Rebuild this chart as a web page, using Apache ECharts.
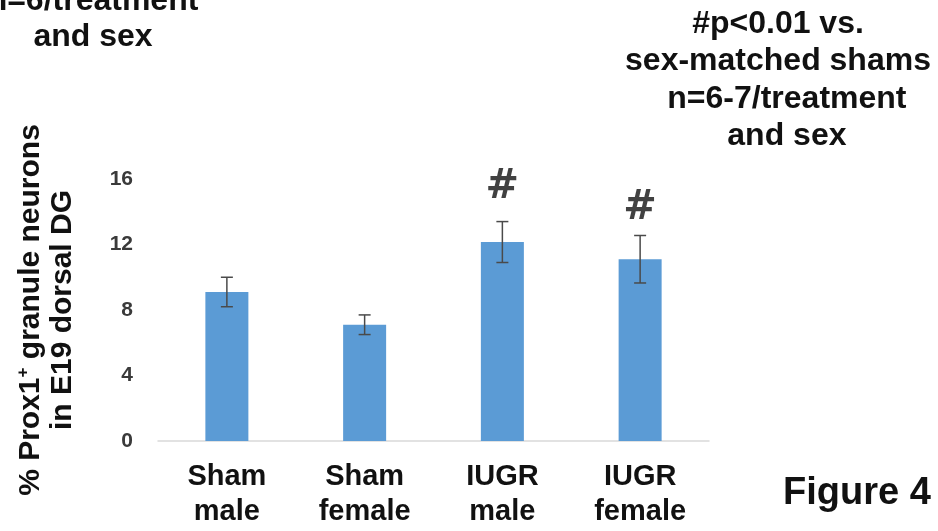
<!DOCTYPE html>
<html>
<head>
<meta charset="utf-8">
<script src="https://cdn.jsdelivr.net/npm/echarts@6/dist/echarts.min.js"></script>
<style>
  html, body { margin: 0; padding: 0; background: #fff; }
  #chart { width: 938px; height: 531px; }
</style>
</head>
<body>
<div id="chart"></div>
<script>
// ---- data ----
const categories = ['Sham\nmale', 'Sham\nfemale', 'IUGR\nmale', 'IUGR\nfemale'];
const means = [9.1, 7.1, 12.15, 11.1];
const sem = [0.9, 0.6, 1.25, 1.45];
const sigMarks = ['', '', '#', '#'];
const sigMarkY = [null, null, 15.5, 14.2];
const yTicks = [0, 4, 8, 12, 16];

const chart = echarts.init(document.getElementById('chart'), null, { renderer: 'canvas' });

const errData = means.map((m, i) => [i, m - sem[i], m + sem[i]]);
const sigData = sigMarkY.map((y, i) => [i, y]);

const boldSans = "'Liberation Sans', Arial, sans-serif";

const option = {
  backgroundColor: '#ffffff',
  animation: false,
  title: [
    {
      text: 'n=6/treatment\nand sex',
      left: 93, top: -17, textAlign: 'center', padding: 0,
      textStyle: { fontFamily: boldSans, fontSize: 32, fontWeight: 'bold', color: '#111', lineHeight: 36 }
    },
    {
      text: '#p<0.01 vs.\nsex-matched shams\n  n=6-7/treatment\n  and sex',
      left: 778, top: 5, textAlign: 'center', padding: 0,
      textStyle: { fontFamily: boldSans, fontSize: 32, fontWeight: 'bold', color: '#111', lineHeight: 37.5 }
    },
    {
      text: 'Figure 4',
      left: 783, top: 475, padding: 0,
      textStyle: { fontFamily: boldSans, fontSize: 38, fontWeight: 'bold', color: '#111', lineHeight: 38 }
    }
  ],
  grid: { left: 158, right: 229, top: 179, bottom: 90, containLabel: false },
  xAxis: {
    type: 'category',
    data: categories,
    axisLine: { show: true, lineStyle: { color: '#D9D9D9', width: 1.5 } },
    axisTick: { show: false },
    axisLabel: {
      interval: 0, margin: 18, color: '#111',
      fontFamily: boldSans, fontSize: 29, fontWeight: 'bold', lineHeight: 35
    }
  },
  yAxis: {
    type: 'value',
    min: yTicks[0], max: yTicks[yTicks.length - 1], interval: yTicks[1] - yTicks[0],
    splitLine: { show: false },
    axisLine: { show: false },
    axisTick: { show: false },
    axisLabel: { margin: 25, color: '#3a3a3a', fontFamily: boldSans, fontSize: 21, fontWeight: 'bold' },
    name: '{a|% Prox1}{sup|+}{a| granule neurons}\n{a|in E19 dorsal DG}',
    nameLocation: 'middle',
    nameRotate: 90,
    nameGap: 79,
    nameTextStyle: {
      fontFamily: boldSans, fontSize: 30, fontWeight: 'bold', color: '#111', lineHeight: 32, align: 'center',
      rich: {
        a: { fontFamily: boldSans, fontSize: 30, fontWeight: 'bold', color: '#111', lineHeight: 32 },
        sup: { fontFamily: boldSans, fontSize: 17, fontWeight: 'bold', color: '#111', lineHeight: 32, verticalAlign: 'top', padding: [0, 0, 12, 0] }
      }
    }
  },
  series: [
    {
      type: 'bar',
      data: means,
      barWidth: 43,
      itemStyle: { color: '#5B9BD5' },
      z: 2
    },
    {
      type: 'custom',
      data: errData,
      z: 3,
      renderItem: function (params, api) {
        const x = api.coord([api.value(0), api.value(1)])[0];
        const lo = api.coord([api.value(0), api.value(1)])[1];
        const hi = api.coord([api.value(0), api.value(2)])[1];
        const cap = 6;
        const style = { stroke: '#4a4a4a', lineWidth: 1.5 };
        return {
          type: 'group',
          children: [
            { type: 'line', shape: { x1: x, y1: lo, x2: x, y2: hi }, style: style },
            { type: 'line', shape: { x1: x - cap, y1: hi, x2: x + cap, y2: hi }, style: style },
            { type: 'line', shape: { x1: x - cap, y1: lo, x2: x + cap, y2: lo }, style: style }
          ]
        };
      }
    },
    {
      type: 'scatter',
      data: sigData,
      symbolSize: 1,
      itemStyle: { color: 'rgba(0,0,0,0)' },
      z: 4,
      label: {
        show: true,
        position: 'inside',
        formatter: function (p) { return sigMarks[p.dataIndex]; },
        fontFamily: "'DejaVu Sans', 'Liberation Sans', Arial, sans-serif", fontSize: 40, fontWeight: 'bold', color: '#111'
      }
    }
  ]
};

chart.setOption(option);
</script>
</body>
</html>
